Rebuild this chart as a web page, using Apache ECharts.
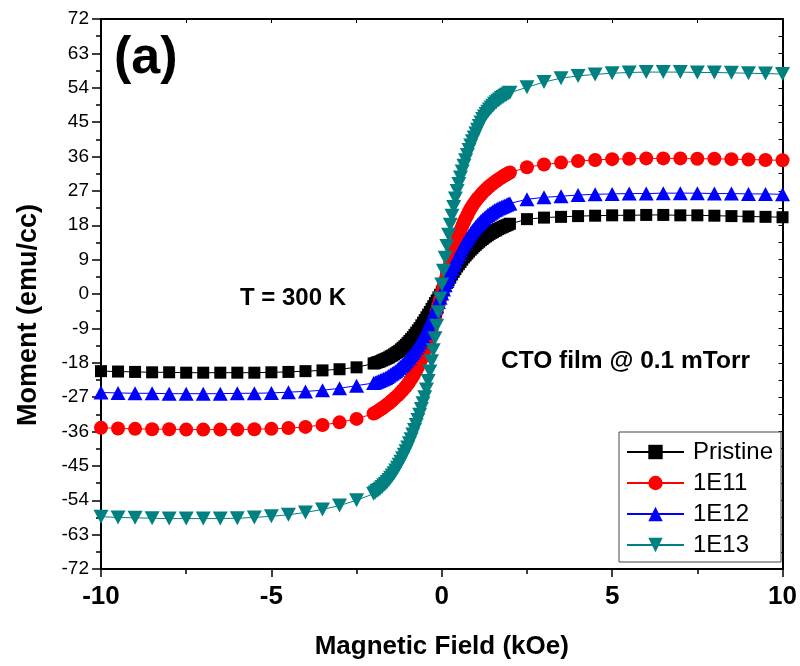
<!DOCTYPE html>
<html>
<head>
<meta charset="utf-8">
<script src="https://cdn.jsdelivr.net/npm/echarts@6/dist/echarts.min.js"></script>
<style>
html,body{margin:0;padding:0;background:#fff;}
#chart{width:800px;height:666px;}
</style>
</head>
<body>
<div id="chart"></div>
<script>
// Magnetic field (kOe)
var fieldH = [-10,-9.5,-9,-8.5,-8,-7.5,-7,-6.5,-6,-5.5,-5,-4.5,-4,-3.5,-3,-2.5,
  -2,-1.95,-1.9,-1.85,-1.8,-1.75,-1.7,-1.65,-1.6,-1.55,
  -1.5,-1.45,-1.4,-1.35,-1.3,-1.25,-1.2,-1.15,-1.1,-1.05,
  -1,-0.95,-0.9,-0.85,-0.8,-0.75,-0.7,-0.65,-0.6,-0.55,
  -0.5,-0.45,-0.4,-0.35,-0.3,-0.25,-0.2,-0.15,-0.1,-0.05,
  0,
  0.05,0.1,0.15,0.2,0.25,0.3,0.35,0.4,0.45,0.5,
  0.55,0.6,0.65,0.7,0.75,0.8,0.85,0.9,0.95,1,
  1.05,1.1,1.15,1.2,1.25,1.3,1.35,1.4,1.45,1.5,
  1.55,1.6,1.65,1.7,1.75,1.8,1.85,1.9,1.95,2,
  2.5,3,3.5,4,4.5,5,5.5,6,6.5,7,7.5,8,8.5,9,9.5,10];

// Moment (emu/cc)
var pristine = [-20.2,-20.3,-20.4,-20.5,-20.5,-20.6,-20.6,-20.6,-20.6,-20.6,-20.5,-20.4,-20.2,-20.0,-19.7,-19.2,
  -18.2,-18.1,-17.9,-17.8,-17.6,-17.4,-17.2,-17.0,-16.8,-16.6,
  -16.3,-16.1,-15.8,-15.5,-15.2,-14.9,-14.5,-14.1,-13.7,-13.3,
  -12.8,-12.3,-11.8,-11.3,-10.7,-10.1,-9.5,-8.9,-8.2,-7.5,
  -6.8,-6.1,-5.4,-4.7,-3.9,-3.2,-2.4,-1.7,-0.9,-0.2,
  0.6,
  1.4,2.1,2.9,3.6,4.4,5.1,5.8,6.5,7.2,7.8,
  8.4,9.0,9.6,10.1,10.6,11.1,11.6,12.0,12.5,12.9,
  13.3,13.7,14.1,14.4,14.8,15.1,15.4,15.7,16.0,16.2,
  16.5,16.7,17.0,17.2,17.4,17.6,17.8,18.0,18.2,18.4,
  19.6,20.0,20.2,20.4,20.5,20.6,20.6,20.7,20.7,20.6,20.6,20.5,20.4,20.3,20.2,20.1];

var e11 = [-35.0,-35.2,-35.3,-35.4,-35.4,-35.5,-35.5,-35.5,-35.5,-35.4,-35.3,-35.1,-34.8,-34.3,-33.6,-32.7,
  -31.3,-31.1,-30.8,-30.5,-30.2,-29.9,-29.6,-29.3,-28.9,-28.6,
  -28.2,-27.8,-27.4,-27.0,-26.6,-26.2,-25.7,-25.2,-24.7,-24.2,
  -23.6,-23.0,-22.3,-21.6,-20.8,-20.0,-19.1,-18.1,-17.1,-16.0,
  -14.8,-13.5,-12.2,-10.8,-9.3,-7.8,-6.2,-4.6,-3.0,-1.4,
  0.3,
  2.0,3.6,5.3,6.9,8.5,10.0,11.5,12.9,14.2,15.5,
  16.7,17.8,18.8,19.8,20.7,21.6,22.4,23.1,23.8,24.4,
  25.0,25.5,26.0,26.5,27.0,27.4,27.8,28.2,28.6,28.9,
  29.3,29.6,29.9,30.2,30.5,30.8,31.1,31.3,31.6,31.8,
  33.2,33.9,34.4,34.8,35.1,35.3,35.4,35.5,35.5,35.5,35.4,35.4,35.3,35.2,35.1,35.0];

var e12 = [-25.8,-25.9,-26.0,-26.0,-26.1,-26.1,-26.1,-26.1,-26.0,-26.0,-25.9,-25.7,-25.5,-25.2,-24.7,-24.0,
  -23.3,-23.2,-23.0,-22.8,-22.6,-22.4,-22.2,-22.0,-21.7,-21.4,
  -21.1,-20.8,-20.5,-20.2,-19.8,-19.4,-19.0,-18.6,-18.1,-17.6,
  -17.1,-16.6,-16.0,-15.4,-14.8,-14.1,-13.4,-12.7,-11.9,-11.1,
  -10.2,-9.3,-8.4,-7.4,-6.4,-5.4,-4.3,-3.2,-2.1,-1.0,
  0.1,
  1.2,2.3,3.4,4.5,5.6,6.6,7.6,8.6,9.6,10.5,
  11.4,12.2,13.0,13.8,14.5,15.2,15.9,16.5,17.1,17.6,
  18.1,18.6,19.1,19.5,19.9,20.3,20.7,21.0,21.3,21.6,
  21.9,22.1,22.4,22.6,22.8,23.0,23.2,23.4,23.6,23.7,
  24.8,25.3,25.6,25.9,26.1,26.2,26.3,26.3,26.4,26.4,26.4,26.3,26.3,26.2,26.2,26.1];

var e13 = [-58.3,-58.5,-58.6,-58.7,-58.8,-58.8,-58.8,-58.8,-58.7,-58.5,-58.2,-57.8,-57.2,-56.4,-55.4,-54.0,
  -52.3,-52.0,-51.6,-51.3,-50.9,-50.5,-50.1,-49.7,-49.2,-48.7,
  -48.1,-47.5,-46.9,-46.2,-45.5,-44.7,-43.9,-43.0,-42.1,-41.2,
  -40.2,-39.1,-38.0,-36.8,-35.6,-34.3,-33.0,-31.6,-30.1,-28.6,
  -27.0,-25.0,-22.8,-20.3,-17.6,-14.7,-11.6,-8.3,-4.8,-1.2,
  2.5,
  6.1,9.5,12.6,15.5,18.1,20.5,22.8,25.0,27.0,28.8,
  30.5,32.1,33.6,35.0,36.4,37.7,38.9,40.0,41.0,42.0,
  43.0,44.0,44.9,45.8,46.5,47.1,47.7,48.3,48.8,49.3,
  49.8,50.2,50.6,50.9,51.3,51.6,51.9,52.2,52.5,52.7,
  54.1,55.5,56.5,57.1,57.5,57.8,58.0,58.1,58.1,58.1,58.0,58.0,57.9,57.8,57.7,57.6];

var seriesNames = ['Pristine','1E11','1E12','1E13'];
var seriesColors = ['#000000','#ff0000','#0000ff','#008080'];
var xTicks = [-10,-5,0,5,10];
var yTicks = [72,63,54,45,36,27,18,9,0,-9,-18,-27,-36,-45,-54,-63,-72];

function pairs(ys){ return fieldH.map(function(h,i){ return [h, ys[i]]; }); }

var FONT = 'Liberation Sans, Arial, sans-serif';
var chart = echarts.init(document.getElementById('chart'), null, {renderer:'canvas'});

var symbols = [
  {symbol:'rect', size:12, rotate:0},
  {symbol:'circle', size:14, rotate:0},
  {symbol:'triangle', size:[15,14], rotate:0},
  {symbol:'triangle', size:[15,14], rotate:180}
];
var dataSets = [pristine, e11, e12, e13];

var series = dataSets.map(function(d, i){
  return {
    name: seriesNames[i],
    type: 'line',
    data: pairs(d),
    symbol: symbols[i].symbol,
    symbolSize: symbols[i].size,
    symbolRotate: symbols[i].rotate,
    showAllSymbol: true,
    lineStyle: {color: seriesColors[i], width: 1},
    itemStyle: {color: seriesColors[i]},
    emphasis: {disabled: true},
    xAxisIndex: 0, yAxisIndex: 0
  };
});

var option = {
  animation: false,
  backgroundColor: '#ffffff',
  grid: {left: 101, right: 16, top: 19, bottom: 97, containLabel: false},
  xAxis: [{
    type: 'value', min: xTicks[0], max: xTicks[xTicks.length-1], interval: 5,
    position: 'bottom',
    name: 'Magnetic Field (kOe)', nameLocation: 'middle', nameGap: 65,
    nameTextStyle: {fontFamily: FONT, fontWeight: 'bold', fontSize: 26, color: '#000'},
    axisLine: {show: true, onZero: false, lineStyle: {color: '#000', width: 2}},
    axisTick: {show: true, inside: false, length: 8, lineStyle: {color: '#000', width: 1.5}},
    minorTick: {show: true, splitNumber: 2, length: 5, lineStyle: {color: '#000', width: 1.5}},
    axisLabel: {fontFamily: FONT, fontWeight: 'bold', fontSize: 26, color: '#000', margin: 15, showMinLabel: true, showMaxLabel: true},
    splitLine: {show: false}
  }, {
    type: 'value', min: -10, max: 10, interval: 2.5, position: 'top',
    axisLine: {show: true, onZero: false, lineStyle: {color: '#000', width: 2}},
    axisTick: {show: true, inside: true, length: 4, lineStyle: {color: '#000', width: 1}},
    axisLabel: {show: false}, splitLine: {show: false}
  }],
  yAxis: [{
    type: 'value', min: yTicks[yTicks.length-1], max: yTicks[0], interval: 9,
    position: 'left',
    name: 'Moment (emu/cc)', nameLocation: 'middle', nameGap: 59,
    nameTextStyle: {fontFamily: FONT, fontWeight: 'bold', fontSize: 27, color: '#000', padding: [0, 42, 0, 0]},
    axisLine: {show: true, onZero: false, lineStyle: {color: '#000', width: 2}},
    axisTick: {show: true, inside: false, length: 9, lineStyle: {color: '#000', width: 1.5}},
    minorTick: {show: true, splitNumber: 2, length: 5, lineStyle: {color: '#000', width: 1.5}},
    axisLabel: {fontFamily: FONT, fontSize: 19, color: '#000', margin: 12, showMinLabel: true, showMaxLabel: true},
    splitLine: {show: false}
  }, {
    type: 'value', min: -72, max: 72, interval: 4.5, position: 'right',
    axisLine: {show: true, onZero: false, lineStyle: {color: '#000', width: 2}},
    axisTick: {show: true, inside: true, length: 4, lineStyle: {color: '#000', width: 1}},
    axisLabel: {show: false}, splitLine: {show: false}
  }],
  legend: {
    orient: 'vertical', left: 619, top: 432,
    padding: [8, 8, 5, 7],
    itemWidth: 57, itemHeight: 18, itemGap: 7,
    borderColor: '#444', borderWidth: 1,
    backgroundColor: '#fff',
    textStyle: {fontFamily: FONT, fontSize: 24, color: '#000', padding: [0, 0, 0, 4]},
    data: seriesNames
  },
  graphic: [
    {type: 'text', left: 114, top: 33, style: {text: '(a)', font: 'bold 52px ' + FONT, fill: '#000'}},
    {type: 'text', left: 240, top: 286, style: {text: 'T = 300 K', font: 'bold 24px ' + FONT, fill: '#000'}},
    {type: 'text', left: 501, top: 349, style: {text: 'CTO film @ 0.1 mTorr', font: 'bold 24.5px ' + FONT, fill: '#000'}}
  ],
  series: series
};
chart.setOption(option);
</script>
</body>
</html>
